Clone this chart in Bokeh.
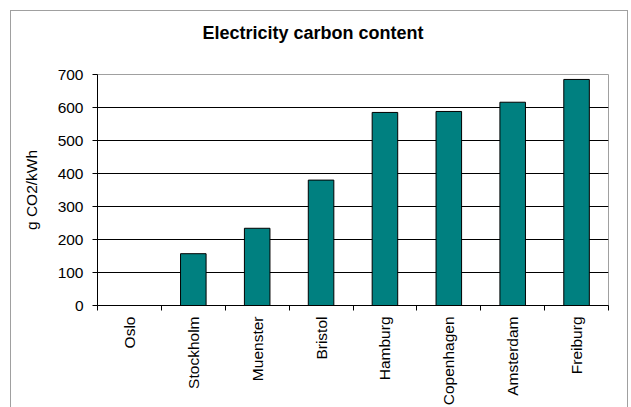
import math

from bokeh.plotting import figure
from bokeh.models import FixedTicker, Range1d, Title
from bokeh.embed import file_html
from bokeh.resources import INLINE

# Carbon intensity of electricity per city (g CO2 per kWh)
cities = ["Oslo", "Stockholm", "Muenster", "Bristol", "Hamburg",
          "Copenhagen", "Amsterdam", "Freiburg"]
carbon = [0, 157, 234, 380, 585, 588, 616, 685]
y_ticks = [0, 100, 200, 300, 400, 500, 600, 700]

FONT = "Liberation Sans"
LABEL_SIZE = "15.5px"

n = len(cities)
centers = [i + 0.5 for i in range(n)]
bounds = [float(i) for i in range(n + 1)]

# the chart area sits inside a thin grey border that runs off the page bottom
p = figure(width=618, height=397, output_backend="svg", toolbar_location=None,
           x_range=Range1d(0, n), y_range=Range1d(y_ticks[0], y_ticks[-1]),
           min_border_left=86, min_border_right=21,
           min_border_top=63, min_border_bottom=103,
           background_fill_color="white", border_fill_color="white",
           margin=(10, 0, 0, 10),
           styles={"border": "1px solid #a0a0a0", "border-bottom": "none"})

p.vbar(x=centers, top=carbon, width=0.4, fill_color="#008080",
       line_color="black", line_width=1)

# heading
p.title.text = "Electricity carbon content"
p.title.align = "left"
p.title.offset = 105
p.title.text_font = FONT
p.title.text_font_size = "18px"
p.title.text_font_style = "bold"
p.title.text_color = "black"
p.title.standoff = 14

# blank spacer between the heading and the frame
p.add_layout(Title(text=" ", text_font_size="1px", standoff=22), "above")

# frame outline
p.outline_line_color = "#a0a0a0"
p.outline_line_width = 1

# x axis: labels at category centres, ticks at category boundaries
xa = p.xaxis[0]
xa.ticker = FixedTicker(ticks=centers, minor_ticks=bounds)
xa.major_label_overrides = {c: name for c, name in zip(centers, cities)}
xa.major_label_orientation = math.pi / 2
xa.major_tick_line_color = None
xa.major_tick_out = 5
xa.major_tick_in = 0
xa.minor_tick_line_color = "black"
xa.minor_tick_out = 5
xa.minor_tick_in = 0
xa.major_label_standoff = 6
xa.major_label_text_font = FONT
xa.major_label_text_font_size = LABEL_SIZE
xa.major_label_text_color = "black"
xa.axis_line_color = "black"

# y axis
ya = p.yaxis[0]
ya.ticker = FixedTicker(ticks=y_ticks)
ya.axis_label = "g CO2/kWh"
ya.axis_label_text_font = FONT
ya.axis_label_text_font_size = LABEL_SIZE
ya.axis_label_text_font_style = "normal"
ya.axis_label_text_color = "black"
ya.axis_label_standoff = 15
ya.major_tick_out = 5
ya.major_tick_in = 0
ya.minor_tick_line_color = None
ya.major_label_standoff = 9
ya.major_label_text_font = FONT
ya.major_label_text_font_size = LABEL_SIZE
ya.major_label_text_color = "black"
ya.axis_line_color = "black"

# grid
p.xgrid.grid_line_color = None
p.ygrid.ticker = FixedTicker(ticks=y_ticks[1:-1])
p.ygrid.grid_line_color = "black"
p.ygrid.grid_line_width = 1

open("out.html", "w").write(file_html(p, INLINE))
